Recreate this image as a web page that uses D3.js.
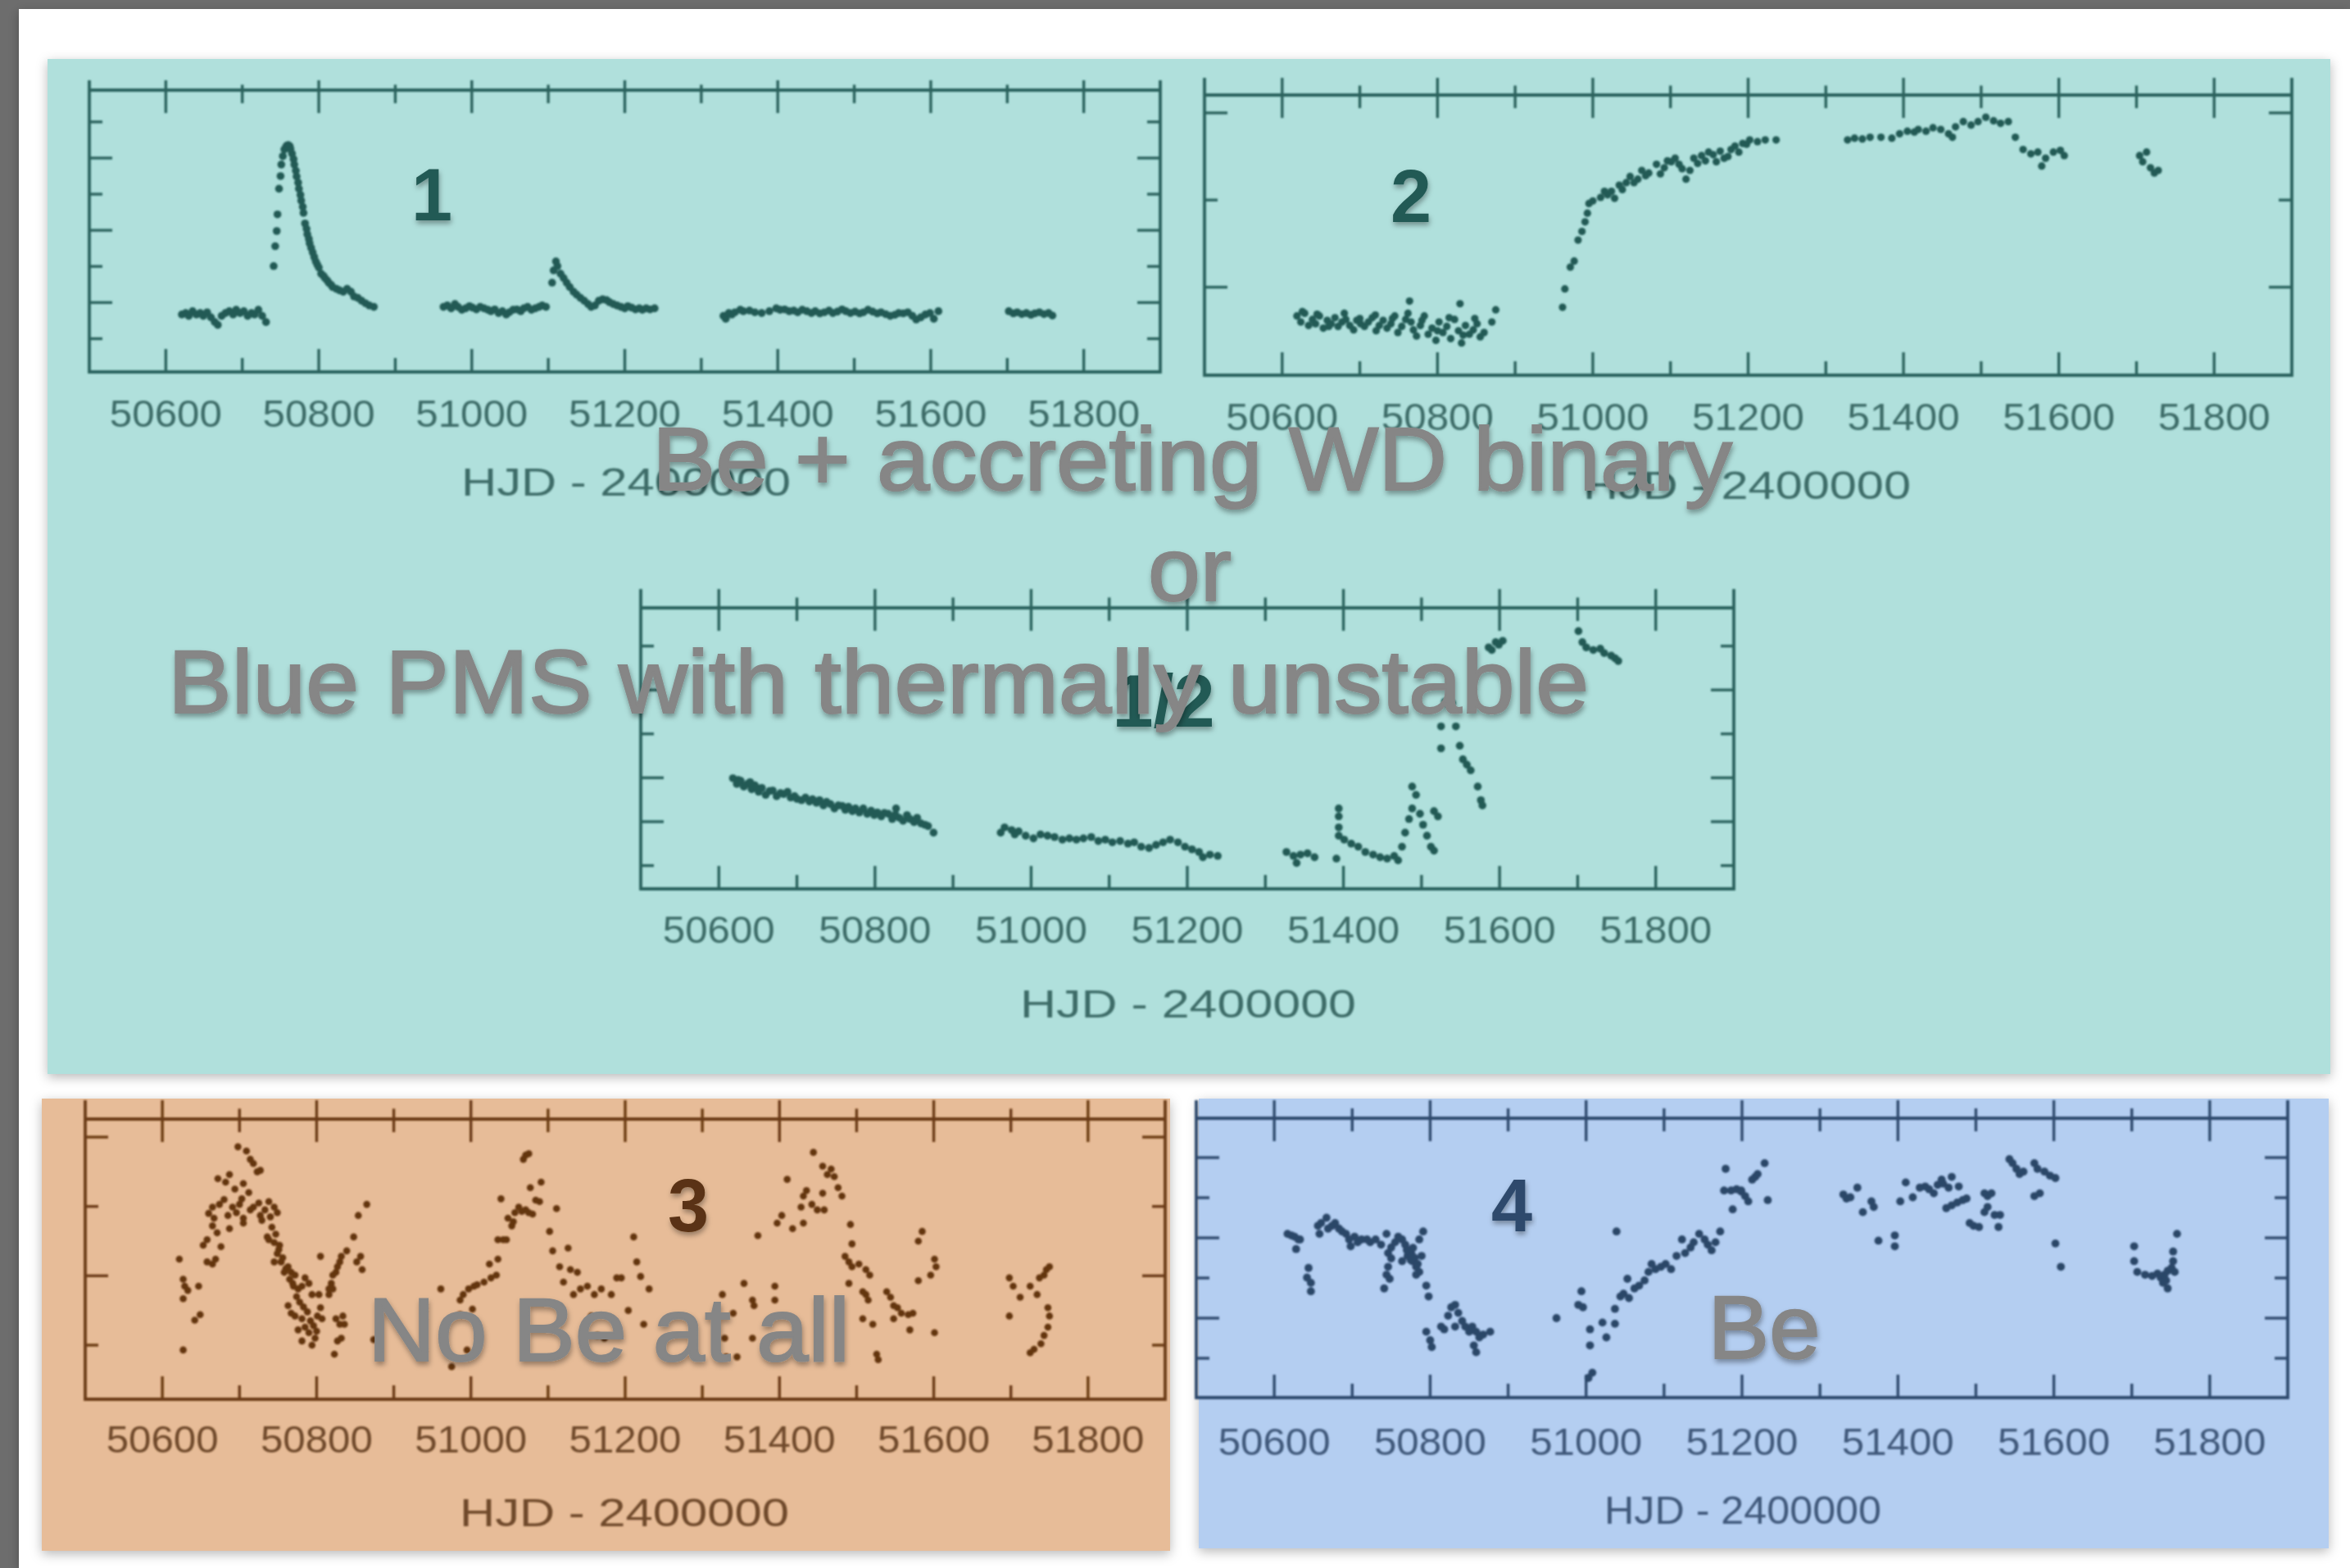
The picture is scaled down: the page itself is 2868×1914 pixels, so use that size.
<!DOCTYPE html>
<html>
<head>
<meta charset="utf-8">
<script src="https://cdn.jsdelivr.net/npm/d3@7"></script>
<style>
  body { margin: 0; background: #6d6d6d; }
  svg { display: block; }
</style>
</head>
<body>
<div id="chart"></div>
<script>
(function(){
  // x axis: HJD - 2400000, ticks every 100 d, labels every 200 d
  const hjdTicks = d3.range(50500, 51901, 100);
  const hjdLabels = [50600, 50800, 51000, 51200, 51400, 51600, 51800];
  const axisTitle = "HJD - 2400000";

  // light curves, [HJD - 2400000, relative brightness]
  const p1Data = [
    [50621,0.67],[50626,0.71],[50630,0.63],[50635,0.76],[50640,0.67],[50645,0.71],[50649,0.63],[50654,0.73],
    [50659,0.59],[50664,0.46],[50668,0.38],[50673,0.63],[50678,0.71],[50683,0.76],[50688,0.67],[50692,0.80],
    [50697,0.71],[50702,0.76],[50707,0.63],[50712,0.71],[50716,0.67],[50721,0.80],[50726,0.63],[50731,0.46],
    [50741,2.01],[50743,2.56],[50745,2.98],[50746,3.44],[50748,4.15],[50750,4.50],[50751,4.82],[50753,5.05],
    [50755,5.24],[50757,5.30],[50758,5.34],[50760,5.36],[50762,5.33],[50763,5.25],[50765,5.12],[50767,4.97],
    [50768,4.82],[50770,4.65],[50771,4.49],[50773,4.32],[50774,4.15],[50776,3.98],[50777,3.82],[50779,3.65],
    [50780,3.48],[50782,3.19],[50784,3.04],[50785,2.89],[50787,2.76],[50788,2.64],[50790,2.51],[50792,2.39],
    [50794,2.26],[50796,2.14],[50798,2.05],[50800,1.97],[50803,1.80],[50806,1.74],[50808,1.68],[50811,1.61],
    [50813,1.55],[50816,1.49],[50818,1.43],[50823,1.38],[50827,1.34],[50832,1.30],[50837,1.38],[50842,1.30],
    [50846,1.17],[50851,1.13],[50856,1.05],[50861,0.98],[50866,0.92],[50872,0.88],
    [50963,0.88],[50968,0.92],[50973,0.84],[50978,0.96],[50982,0.88],[50987,0.80],[50992,0.84],[50997,0.90],
    [51001,0.86],[51006,0.81],[51011,0.88],[51016,0.84],[51021,0.80],[51025,0.76],[51030,0.81],[51035,0.71],
    [51040,0.76],[51045,0.67],[51049,0.73],[51054,0.80],[51059,0.81],[51064,0.76],[51068,0.84],[51073,0.88],
    [51078,0.80],[51083,0.84],[51088,0.88],[51092,0.92],[51097,0.88],
    [51105,1.55],[51107,1.89],[51110,2.14],[51112,2.01],[51116,1.80],[51120,1.68],[51124,1.55],[51128,1.43],
    [51133,1.30],[51137,1.22],[51142,1.13],[51147,1.05],[51152,0.96],[51156,0.88],[51161,0.92],[51166,1.05],
    [51171,1.09],[51176,1.07],[51180,1.01],[51185,0.96],[51190,0.92],[51195,0.88],[51200,0.84],[51204,0.90],
    [51209,0.86],[51214,0.81],[51219,0.84],[51223,0.80],[51228,0.84],[51233,0.81],[51239,0.84],
    [51329,0.63],[51332,0.55],[51336,0.71],[51340,0.67],[51344,0.73],[51351,0.80],[51355,0.76],[51363,0.78],
    [51370,0.73],[51379,0.71],[51389,0.76],[51398,0.84],[51403,0.80],[51409,0.81],[51415,0.76],[51421,0.78],
    [51426,0.73],[51432,0.80],[51438,0.76],[51444,0.71],[51449,0.76],[51455,0.70],[51461,0.73],[51467,0.78],
    [51472,0.71],[51478,0.75],[51484,0.81],[51489,0.76],[51495,0.71],[51501,0.75],[51507,0.70],[51512,0.73],
    [51518,0.80],[51524,0.75],[51530,0.70],[51535,0.73],[51541,0.68],[51547,0.63],[51553,0.66],[51558,0.71],
    [51564,0.70],[51570,0.73],[51576,0.63],[51581,0.53],[51587,0.59],[51593,0.67],[51599,0.71],[51604,0.55],
    [51610,0.76],
    [51702,0.76],[51708,0.70],[51713,0.73],[51719,0.68],[51725,0.71],[51731,0.66],[51736,0.70],[51742,0.73],
    [51748,0.68],[51754,0.71],[51759,0.64]
  ];

  const p2Data = [
    [50619,-0.33],[50624,-0.40],[50629,-0.30],[50634,-0.44],[50639,-0.37],[50643,-0.42],[50648,-0.33],[50653,-0.47],
    [50658,-0.38],[50663,-0.42],[50668,-0.35],[50672,-0.45],[50677,-0.40],[50682,-0.37],[50687,-0.44],[50692,-0.49],
    [50696,-0.38],[50701,-0.42],[50706,-0.45],[50711,-0.40],[50716,-0.35],[50721,-0.50],[50725,-0.44],[50730,-0.38],
    [50735,-0.47],[50740,-0.42],[50745,-0.33],[50749,-0.52],[50754,-0.45],[50759,-0.37],[50764,-0.16],[50766,-0.40],
    [50769,-0.49],[50773,-0.56],[50778,-0.44],[50783,-0.33],[50788,-0.54],[50793,-0.47],[50798,-0.61],[50802,-0.40],
    [50807,-0.52],[50812,-0.45],[50817,-0.59],[50822,-0.37],[50827,-0.50],[50829,-0.19],[50831,-0.64],[50836,-0.44],
    [50841,-0.54],[50846,-0.49],[50851,-0.42],[50855,-0.57],[50860,-0.52],[50870,-0.40],[50875,-0.26],
    [50626,-0.28],[50645,-0.31],[50660,-0.45],[50680,-0.30],[50700,-0.36],[50720,-0.32],[50742,-0.36],[50762,-0.30],
    [50780,-0.38],[50800,-0.50],[50815,-0.35],[50833,-0.55],[50848,-0.36],
    [50961,-0.23],[50964,-0.02],[50971,0.23],[50976,0.30],[50981,0.54],[50986,0.64],[50990,0.75],[50993,0.85],
    [50995,0.96],[51000,0.99],[51010,1.03],[51019,1.06],[51024,1.10],[51034,1.17],[51043,1.20],[51048,1.27],
    [51058,1.24],[51063,1.34],[51072,1.31],[51082,1.41],[51092,1.37],[51101,1.44],[51106,1.48],[51111,1.41],
    [51120,1.24],[51125,1.34],[51130,1.48],[51140,1.51],[51149,1.55],[51159,1.44],[51169,1.48],[51178,1.58],
    [51188,1.55],[51193,1.65],[51202,1.69],[51212,1.67],[51222,1.69],[51236,1.69],
    [51015,1.10],[51028,1.02],[51038,1.12],[51053,1.20],[51068,1.28],[51087,1.30],[51096,1.45],[51115,1.36],
    [51135,1.42],[51145,1.45],[51155,1.52],[51164,1.56],[51174,1.50],[51183,1.62],[51198,1.64],
    [51328,1.69],[51337,1.71],[51347,1.70],[51357,1.72],[51371,1.72],[51385,1.71],[51395,1.76],[51405,1.79],
    [51414,1.78],[51419,1.81],[51429,1.79],[51438,1.83],[51448,1.81],[51458,1.76],[51463,1.72],[51467,1.84],
    [51477,1.90],[51487,1.86],[51496,1.90],[51506,1.95],[51516,1.91],[51525,1.88],[51535,1.90],[51544,1.72],
    [51554,1.58],[51564,1.53],[51573,1.55],[51583,1.48],[51578,1.39],[51593,1.55],[51602,1.57],[51607,1.51],
    [51704,1.51],[51708,1.44],[51718,1.37],[51723,1.31],[51728,1.34],[51713,1.55]
  ];

  const p12Data = [
    [50618,1.99],[50623,1.86],[50628,1.93],[50632,1.80],[50637,1.86],[50642,1.74],[50646,1.83],[50651,1.68],
    [50655,1.77],[50660,1.61],[50669,1.71],[50674,1.58],[50679,1.65],[50688,1.68],[50692,1.55],[50697,1.58],
    [50706,1.49],[50711,1.55],[50716,1.46],[50725,1.43],[50729,1.49],[50734,1.37],[50743,1.40],[50748,1.30],
    [50753,1.37],[50762,1.27],[50766,1.34],[50771,1.24],[50780,1.21],[50785,1.30],[50790,1.18],[50799,1.15],
    [50803,1.21],[50808,1.12],[50817,1.18],[50822,1.06],[50827,1.30],[50831,1.09],[50836,1.02],[50841,1.15],
    [50845,1.06],[50850,0.99],[50854,1.09],[50859,0.96],[50864,0.93],[50868,0.90],[50875,0.75],
    [50625,1.95],[50640,1.90],[50650,1.76],[50665,1.70],[50683,1.63],[50700,1.52],[50720,1.51],[50738,1.45],
    [50758,1.36],[50775,1.30],[50795,1.25],[50812,1.20],[50826,1.16],
    [50961,0.75],[50966,0.87],[50975,0.81],[50979,0.71],[50984,0.78],[50993,0.68],[51003,0.62],[51012,0.71],
    [51021,0.68],[51030,0.65],[51040,0.59],[51049,0.62],[51058,0.59],[51067,0.62],[51077,0.65],[51086,0.56],
    [51095,0.59],[51104,0.53],[51114,0.56],[51124,0.50],[51132,0.53],[51141,0.43],[51151,0.40],[51160,0.47],
    [51169,0.53],[51178,0.59],[51188,0.53],[51197,0.43],[51206,0.37],[51215,0.31],[51220,0.19],[51229,0.25],
    [51239,0.22],
    [51327,0.31],[51336,0.22],[51345,0.25],[51354,0.28],[51363,0.19],[51340,0.06],[51394,1.30],[51394,1.12],
    [51394,0.87],[51394,0.68],[51391,0.16],[51401,0.59],[51410,0.50],[51419,0.43],[51428,0.31],[51438,0.25],
    [51447,0.19],[51456,0.16],[51465,0.22],[51470,0.12],[51475,0.43],[51479,0.75],[51484,1.06],[51488,1.30],
    [51488,1.80],[51493,1.61],[51498,1.18],[51502,0.93],[51507,0.68],[51512,0.43],[51516,0.34],[51521,1.12],
    [51516,1.24],[51530,3.73],[51535,3.66],[51539,3.70],[51525,3.17],[51544,3.17],[51525,2.67],[51549,2.73],
    [51553,2.42],[51558,2.30],[51563,2.17],[51572,1.80],[51576,1.49],[51578,1.37],
    [51586,4.97],[51595,5.09],[51604,5.12],[51599,5.03],[51590,4.91],
    [51701,5.34],[51706,5.09],[51711,4.97],[51720,4.91],[51729,4.94],[51734,4.84],[51743,4.78],[51748,4.72],
    [51752,4.66]
  ];

  const p3Data = [
    [50622,1.24],[50627,0.95],[50629,0.85],[50627,0.67],[50633,0.79],[50647,0.85],[50649,0.44],[50642,0.36],
    [50627,-0.07],[50653,1.44],[50658,1.20],[50665,1.17],[50669,1.24],[50658,1.52],[50665,1.72],[50667,1.83],
    [50665,1.99],[50674,2.03],[50671,1.62],[50676,1.42],[50685,1.87],[50687,1.68],[50691,1.99],[50696,1.91],
    [50700,2.03],[50703,2.11],[50705,1.83],[50705,1.76],[50687,2.46],[50682,2.35],[50705,2.33],[50698,2.86],
    [50709,2.80],[50714,2.68],[50718,2.62],[50723,2.50],[50727,2.52],[50714,1.95],[50718,1.99],[50727,1.87],
    [50729,1.80],[50738,2.07],[50745,1.99],[50749,1.91],[50736,1.56],[50738,1.52],[50745,1.48],[50752,1.44],
    [50749,1.32],[50754,1.20],[50745,1.20],[50763,1.13],[50758,1.05],[50767,1.05],[50772,1.01],[50769,0.89],
    [50776,0.81],[50781,0.85],[50785,0.97],[50790,0.89],[50794,0.73],[50803,0.73],[50763,0.57],[50767,0.46],
    [50772,0.42],[50781,0.38],[50785,0.26],[50776,0.22],[50790,0.18],[50781,0.06],[50798,0.10],[50794,0.00],
    [50801,0.42],[50807,0.38],[50805,0.54],[50816,0.81],[50819,0.89],[50821,1.01],[50825,1.05],[50830,1.20],
    [50832,1.28],[50839,1.36],[50827,1.13],[50816,0.73],[50825,0.38],[50834,0.42],[50830,0.30],[50836,0.30],
    [50832,0.10],[50823,-0.13],[50827,0.06],[50805,1.28],[50848,1.56],[50852,1.20],[50857,1.28],[50859,1.09],
    [50854,1.87],[50865,2.03],[50821,0.81],[50874,0.08],
    [50742,1.70],[50747,1.60],[50751,1.38],[50756,1.26],[50760,1.10],[50765,0.95],[50770,0.85],[50774,0.70],
    [50778,0.62],[50783,0.55],[50788,0.48],[50792,0.35],[50796,0.28],[50800,0.20],[50740,1.85],[50733,1.95],
    [50725,2.05],[50712,2.20],[50694,2.25],[50680,2.10],[50672,2.40],[50660,1.90],
    [50961,0.81],[50986,0.65],[50990,0.73],[50997,0.81],[51004,0.85],[51008,0.87],[51017,0.91],[51026,0.97],
    [51024,1.17],[51035,1.24],[51033,1.01],[51002,0.52],[50986,0.44],[50995,-0.07],[50975,-0.31],[51035,1.52],
    [51042,1.52],[51046,1.52],[51053,1.72],[51055,1.78],[51048,1.83],[51057,1.91],[51062,1.99],[51066,1.93],
    [51071,1.95],[51075,1.91],[51080,1.89],[51077,2.27],[51091,2.35],[51084,2.09],[51089,2.07],[51039,2.11],
    [51071,2.74],[51068,2.68],[51075,2.76],[51111,1.97],[51102,1.64],[51106,1.36],[51126,1.40],[51115,1.13],
    [51129,1.09],[51138,1.05],[51120,0.91],[51133,0.73],[51142,0.81],[51151,0.85],[51160,0.73],[51169,0.81],
    [51182,0.73],[51189,0.97],[51156,0.42],[51164,0.14],[51173,0.10],
    [51195,0.97],[51204,0.50],[51211,1.56],[51215,1.20],[51220,0.99],[51224,0.30],[51231,0.81],
    [51326,0.73],[51329,0.10],[51331,-0.17],[51340,0.46],[51345,-0.17],[51354,0.89],[51365,0.65],[51367,0.57],
    [51365,0.10],[51372,1.58],[51394,0.85],[51394,0.65],[51397,1.76],[51403,1.87],[51410,2.39],[51417,1.68],
    [51431,1.76],[51428,1.99],[51431,2.15],[51435,2.23],[51442,2.03],[51444,2.78],[51449,1.95],[51456,2.19],
    [51458,1.95],[51462,2.46],[51467,2.54],[51471,2.43],[51476,2.27],[51481,2.15],[51456,2.58],
    [51492,1.74],[51494,1.46],[51485,1.28],[51490,1.20],[51494,1.13],[51503,1.17],[51512,1.09],[51517,1.01],
    [51490,0.89],[51508,0.77],[51512,0.73],[51515,0.65],[51508,0.38],[51521,0.30],[51526,-0.13],[51528,-0.21],
    [51539,0.77],[51544,0.69],[51548,0.57],[51553,0.54],[51558,0.46],[51567,0.44],[51573,0.46],[51548,0.38],
    [51569,0.22],[51601,0.18],[51580,0.93],[51596,1.01],[51603,1.13],[51601,1.24],[51585,1.64],[51580,1.50],
    [51698,0.97],[51703,0.85],[51712,0.69],[51698,0.42],[51725,0.85],[51734,0.73],[51737,0.97],[51743,1.01],
    [51746,1.09],[51750,1.13],[51748,0.54],[51750,0.42],[51748,0.26],[51743,0.14],[51739,0.02],[51730,-0.06],
    [51725,-0.11]
  ];

  const p4Data = [
    [50617,3.10],[50622,3.06],[50626,3.03],[50631,2.96],[50628,2.72],[50633,2.96],[50656,3.30],[50658,3.10],
    [50660,3.37],[50667,3.50],[50669,3.23],[50674,3.30],[50678,3.37],[50683,3.23],[50687,3.16],[50692,3.10],
    [50696,2.96],[50698,2.79],[50703,3.03],[50707,2.89],[50712,2.96],[50719,2.96],[50723,2.89],[50730,2.96],
    [50737,2.83],[50744,3.10],[50746,2.62],[50750,2.76],[50755,2.89],[50759,3.03],[50764,2.96],[50768,2.83],
    [50773,2.69],[50777,2.42],[50782,2.28],[50786,2.15],[50791,3.16],[50786,2.96],[50771,2.55],[50764,2.42],
    [50750,2.49],[50746,2.28],[50744,2.08],[50748,1.98],[50741,1.74],[50647,1.88],[50647,1.67],[50642,2.01],
    [50644,2.25],[50782,2.08],[50795,1.81],[50798,1.54],
    [50776,2.60],[50780,2.50],[50784,2.35],[50778,2.75],[50789,2.55],[50770,2.70],[50775,2.45],
    [50795,0.66],[50800,0.45],[50802,0.28],[50814,0.79],[50818,0.72],[50823,1.06],[50827,1.27],[50832,1.33],
    [50836,1.13],[50832,0.79],[50841,0.93],[50845,0.79],[50850,0.66],[50854,0.79],[50859,0.66],[50863,0.52],
    [50868,0.59],[50877,0.66],[50856,0.32],[50859,0.15],
    [50962,1.00],[50994,1.67],[50990,1.33],[50996,1.27],[51005,0.72],[51021,0.89],[51037,0.86],[51026,0.52],
    [51005,0.32],[51008,-0.36],[51003,-0.49],[51039,3.16],[51037,1.23],[51044,1.54],[51048,1.61],[51055,1.50],
    [51053,1.98],[51062,1.74],[51068,1.81],[51075,1.94],[51080,2.15],[51084,2.35],[51089,2.22],[51096,2.28],
    [51102,2.35],[51109,2.22],[51116,2.55],[51123,2.96],[51127,2.62],[51134,2.76],[51138,2.89],[51145,3.10],
    [51152,2.96],[51156,2.83],[51161,2.69],[51166,2.89],[51172,3.16],[51179,4.72],[51177,4.18],[51186,4.18],
    [51193,4.21],[51199,4.15],[51188,3.71],
    [51199,4.18],[51204,4.04],[51208,3.91],[51213,4.45],[51217,4.52],[51220,4.59],[51229,4.86],[51233,3.94],
    [51330,4.08],[51334,3.98],[51339,4.01],[51348,4.25],[51355,3.64],[51366,3.91],[51369,3.77],[51375,2.93],
    [51396,3.06],[51396,2.79],[51403,3.91],[51410,4.38],[51419,4.01],[51428,4.25],[51435,4.28],[51440,4.21],
    [51446,4.11],[51451,4.32],[51456,4.45],[51458,4.35],[51465,4.25],[51469,4.52],[51478,4.28],[51462,3.74],
    [51469,3.81],[51476,3.88],[51483,3.94],[51488,3.98],[51492,3.37],[51497,3.30],[51504,3.27],[51511,4.11],
    [51515,4.04],[51520,4.11],[51515,3.77],[51511,3.64],[51524,3.57],[51531,3.57],[51529,3.27],
    [51543,4.96],[51547,4.86],[51552,4.72],[51556,4.59],[51561,4.65],[51575,4.86],[51579,4.72],[51588,4.65],
    [51595,4.55],[51602,4.49],[51575,4.04],[51582,4.11],[51602,2.86],[51609,2.28],
    [51703,2.79],[51703,2.42],[51707,2.15],[51717,2.08],[51726,2.05],[51733,2.11],[51737,2.01],[51742,2.08],
    [51746,2.18],[51751,2.25],[51744,1.94],[51746,1.74],[51740,1.88],[51753,2.42],[51753,2.66],[51758,3.10],
    [51755,2.15]
  ];

  // overlay annotations
  const notes = ["Be + accreting WD binary", "or", "Blue PMS with thermally unstable", "No Be at all", "Be"];

  const W = 2868, H = 1914;
  const font = "'Liberation Sans', Arial, Helvetica, sans-serif";

  const svg = d3.select("#chart").append("svg")
    .attr("width", W)
    .attr("height", H);

  const defs = svg.append("defs");
  defs.append("filter").attr("id", "boxShadow")
    .attr("x", "-5%").attr("y", "-5%").attr("width", "110%").attr("height", "115%")
    .append("feDropShadow")
    .attr("dx", 0).attr("dy", 4).attr("stdDeviation", 7)
    .attr("flood-color", "#000").attr("flood-opacity", 0.28);
  defs.append("filter").attr("id", "textShadow")
    .attr("x", "-10%").attr("y", "-20%").attr("width", "120%").attr("height", "150%")
    .append("feDropShadow")
    .attr("dx", 1).attr("dy", 4).attr("stdDeviation", 3)
    .attr("flood-color", "#000").attr("flood-opacity", 0.35);
  defs.append("filter").attr("id", "soft")
    .append("feGaussianBlur").attr("stdDeviation", 0.8);

  // slide and coloured boxes
  svg.append("rect").attr("x", 0).attr("y", 0).attr("width", W).attr("height", H).attr("fill", "#6d6d6d");
  svg.append("rect").attr("x", 23).attr("y", 11).attr("width", W - 23).attr("height", H - 11)
    .attr("fill", "#ffffff").attr("filter", "url(#boxShadow)");

  const boxes = [
    {x: 58, y: 72, w: 2786, h: 1239, fill: "#b0e0dc"},
    {x: 51, y: 1341, w: 1377, h: 552, fill: "#e7bc98"},
    {x: 1463, y: 1341, w: 1379, h: 549, fill: "#b4cef1"}
  ];
  svg.selectAll(".box").data(boxes).join("rect")
    .attr("class", "box")
    .attr("x", d => d.x).attr("y", d => d.y)
    .attr("width", d => d.w).attr("height", d => d.h)
    .attr("fill", d => d.fill)
    .attr("filter", "url(#boxShadow)");

  const teal = {ink: "#2b625d", text: "#3c6c68", dot: "#235a55", tag: "#245a55"};
  const brown = {ink: "#6a3b14", text: "#6f4a2c", dot: "#643610", tag: "#5a3212"};
  const navy = {ink: "#2d4a6d", text: "#40597a", dot: "#2b4668", tag: "#2d4a6c"};

  const panels = [
    {data: p1Data, c: teal, x0: 109, x1: 1416, yTop: 110, yBot: 454, ext: 12, yDom: [-0.92, 6.88],
     yTicks: d3.range(0, 7), longY: [1, 3, 5], r: 4.8, labelY: 521, titleX: 764, titleY: 605, titleW: 402,
     tag: "1", tagX: 527, tagY: 269},
    {data: p2Data, c: teal, x0: 1470, x1: 2797, yTop: 116, yBot: 458, ext: 21, yDom: [-1.01, 2.205],
     yTicks: [0, 1, 2], longY: [0, 2], r: 4.6, labelY: 525, titleX: 2132, titleY: 609, titleW: 400,
     tag: "2", tagX: 1722, tagY: 271},
    {data: p12Data, c: teal, x0: 782, x1: 2116, yTop: 742, yBot: 1085, ext: 23, yDom: [-0.53, 5.87],
     yTicks: d3.range(0, 6), longY: [1, 2, 4], r: 4.8, labelY: 1151, titleX: 1450, titleY: 1242, titleW: 410,
     tag: "1/2", tagX: 1420, tagY: 887},
    {data: p3Data, c: brown, x0: 104, x1: 1422, yTop: 1366, yBot: 1708, ext: 23, yDom: [-0.78, 3.26],
     yTicks: [0, 1, 2, 3], longY: [1, 3], r: 4.3, labelY: 1773, titleX: 762, titleY: 1863, titleW: 402,
     tag: "3", tagX: 840, tagY: 1503},
    {data: p4Data, c: navy, x0: 1460, x1: 2792, yTop: 1365, yBot: 1706, ext: 22, yDom: [-0.98, 5.98],
     yTicks: d3.range(0, 6), longY: [1, 3, 5], r: 4.9, labelY: 1776, titleX: 2127, titleY: 1860, titleW: 338,
     tag: "4", tagX: 1845, tagY: 1503}
  ];

  const isMajor = d => hjdLabels.includes(d);

  panels.forEach(p => {
    const x = d3.scaleLinear().domain([50500, 51900]).range([p.x0, p.x1]);
    const y = d3.scaleLinear().domain(p.yDom).range([p.yBot, p.yTop]);
    const g = svg.append("g").attr("filter", "url(#soft)");
    const inner = hjdTicks.slice(1, -1);

    // frame: side axes run above the top line, as in the cropped figure
    g.append("path")
      .attr("d", `M${p.x0},${p.yTop - p.ext}V${p.yBot}H${p.x1}V${p.yTop - p.ext}M${p.x0},${p.yTop}H${p.x1}`)
      .attr("fill", "none")
      .attr("stroke", p.c.ink)
      .attr("stroke-width", 3.8);

    // top ticks
    g.selectAll(null).data(inner).join("line")
      .attr("x1", d => x(d)).attr("x2", d => x(d))
      .attr("y1", d => p.yTop - (isMajor(d) ? p.ext : p.ext * 0.55))
      .attr("y2", d => p.yTop + (isMajor(d) ? 28 : 16))
      .attr("stroke", p.c.ink).attr("stroke-width", 3.4);

    // bottom ticks
    g.selectAll(null).data(inner).join("line")
      .attr("x1", d => x(d)).attr("x2", d => x(d))
      .attr("y1", d => p.yBot - (isMajor(d) ? 28 : 17))
      .attr("y2", p.yBot)
      .attr("stroke", p.c.ink).attr("stroke-width", 3.4);

    // y ticks, both sides, pointing inward
    [[p.x0, 1], [p.x1, -1]].forEach(([x0, dir]) => {
      g.selectAll(null).data(p.yTicks).join("line")
        .attr("x1", x0)
        .attr("x2", d => x0 + dir * (p.longY.includes(d) ? 28 : 16))
        .attr("y1", d => y(d)).attr("y2", d => y(d))
        .attr("stroke", p.c.ink).attr("stroke-width", 3.4);
    });

    // tick labels
    g.selectAll(null).data(hjdLabels).join("text")
      .attr("x", d => x(d))
      .attr("y", p.labelY)
      .attr("text-anchor", "middle")
      .attr("font-family", font)
      .attr("font-size", 47)
      .attr("textLength", 137)
      .attr("lengthAdjust", "spacingAndGlyphs")
      .attr("fill", p.c.text)
      .text(d => d);

    g.append("text")
      .attr("x", p.titleX)
      .attr("y", p.titleY)
      .attr("text-anchor", "middle")
      .attr("font-family", font)
      .attr("font-size", 49)
      .attr("textLength", p.titleW)
      .attr("lengthAdjust", "spacingAndGlyphs")
      .attr("fill", p.c.text)
      .text(axisTitle);

    // observations
    g.selectAll(null).data(p.data).join("circle")
      .attr("cx", d => x(d[0]))
      .attr("cy", d => y(d[1]))
      .attr("r", p.r)
      .attr("fill", p.c.dot);

    // panel number
    svg.append("text")
      .attr("x", p.tagX)
      .attr("y", p.tagY)
      .attr("text-anchor", "middle")
      .attr("font-family", font)
      .attr("font-weight", "bold")
      .attr("font-size", 90)
      .attr("fill", p.c.tag)
      .attr("filter", "url(#textShadow)")
      .text(p.tag);
  });

  // grey overlay annotations
  const notePos = [
    {x: 1455, y: 598, w: 1318},
    {x: 1452, y: 733, w: 102},
    {x: 1072, y: 870, w: 1734},
    {x: 743, y: 1661, w: 588},
    {x: 2153, y: 1658, w: 137}
  ];
  svg.selectAll(".note").data(notes).join("text")
    .attr("class", "note")
    .attr("x", (d, i) => notePos[i].x)
    .attr("y", (d, i) => notePos[i].y)
    .attr("text-anchor", "middle")
    .attr("font-family", font)
    .attr("font-size", 110)
    .attr("textLength", (d, i) => notePos[i].w)
    .attr("lengthAdjust", "spacingAndGlyphs")
    .attr("fill", "#868686")
    .attr("stroke", "#868686")
    .attr("stroke-width", 2.2)
    .attr("filter", "url(#textShadow)")
    .text(d => d);
})();
</script>
</body>
</html>
